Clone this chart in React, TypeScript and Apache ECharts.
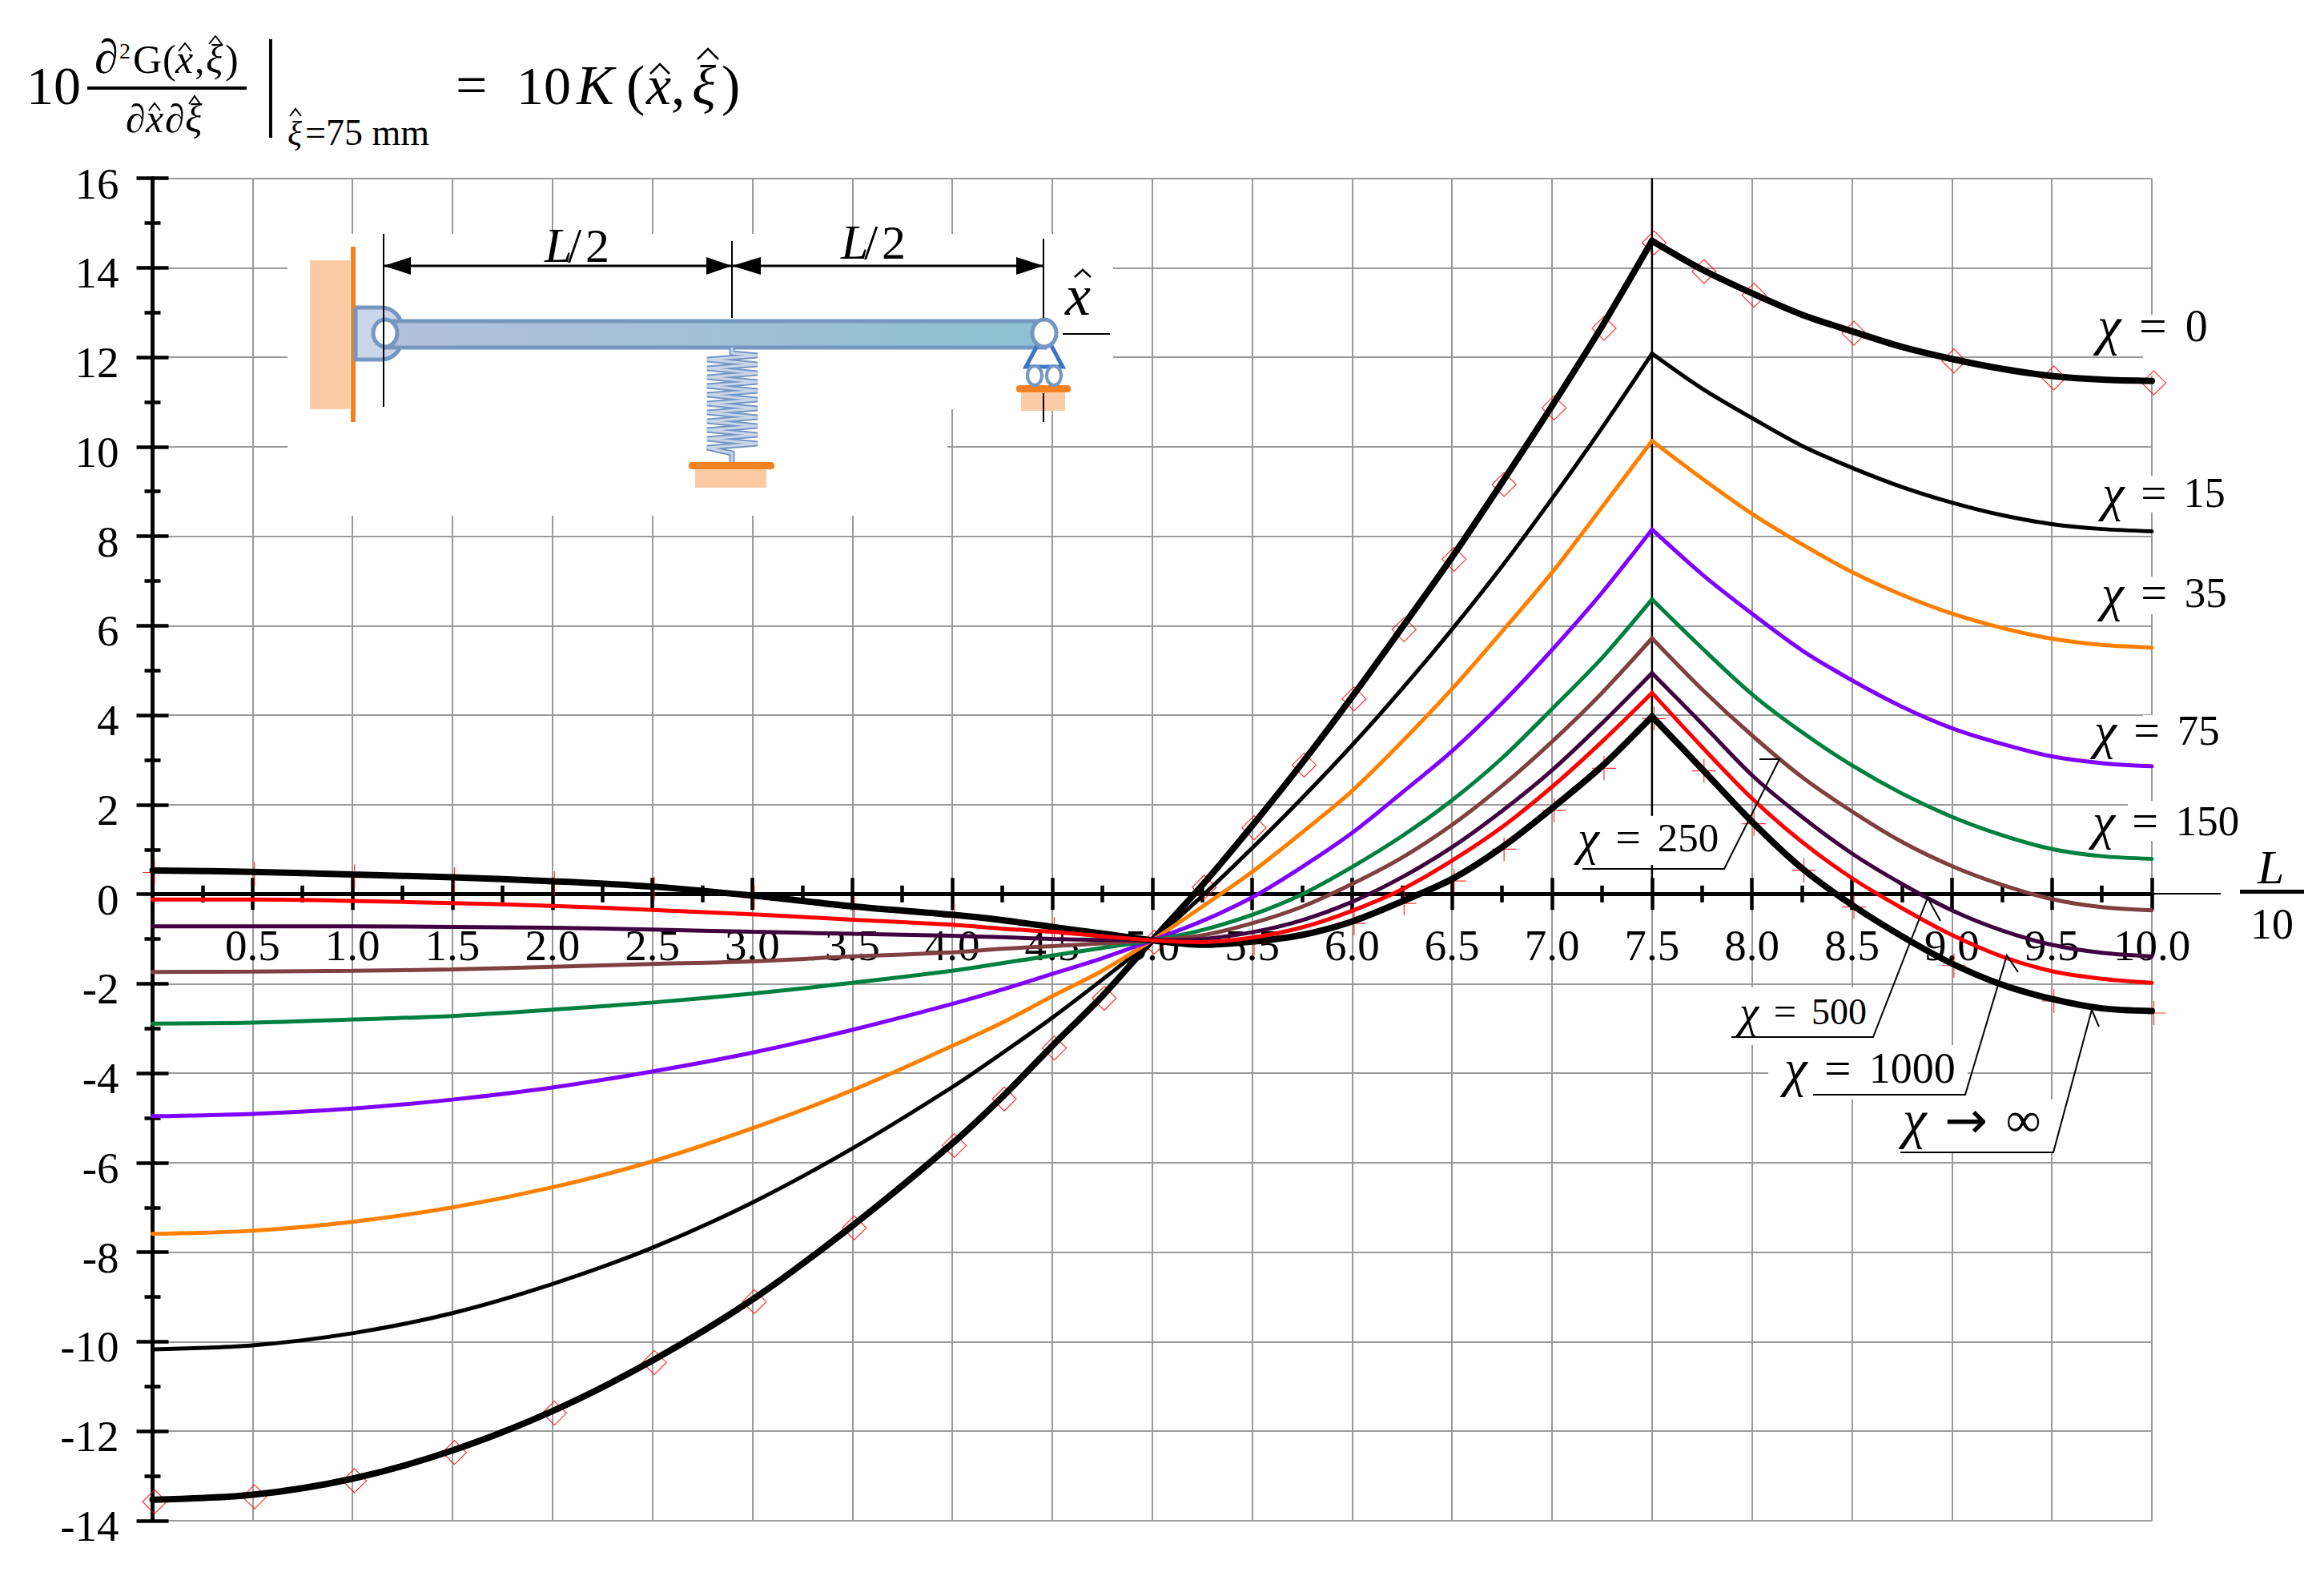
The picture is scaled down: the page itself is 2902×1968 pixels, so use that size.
// Familia de curvas 10*K(x,xi) para xi = 75 mm, com o esquema da viga no canto superior.
import { useEffect, useRef } from 'react'
import * as echarts from 'echarts'

const xValues = [0, 0.5, 1, 1.5, 2, 2.5, 3, 3.5, 4, 4.25, 4.5, 4.75, 5, 5.25, 5.5, 5.75, 6, 6.25, 6.5, 6.75, 7, 7.25, 7.5, 7.75, 8, 8.25, 8.5, 8.75, 9, 9.25, 9.5, 9.75, 10]

const chi0 = [-13.53, -13.42, -13.06, -12.43, -11.55, -10.42, -9.06, -7.41, -5.57, -4.53, -3.39, -2.28, -1.03, 0.2, 1.53, 2.93, 4.41, 5.96, 7.53, 9.2, 10.91, 12.69, 14.6, 13.96, 13.43, 12.95, 12.58, 12.23, 11.96, 11.74, 11.58, 11.5, 11.47]
const chi15 = [-10.17, -10.08, -9.81, -9.36, -8.71, -7.9, -6.89, -5.68, -4.31, -3.55, -2.76, -1.91, -1.03, -0.04, 1.03, 2.15, 3.33, 4.59, 5.92, 7.33, 8.84, 10.42, 12.08, 11.3, 10.64, 10.02, 9.53, 9.1, 8.75, 8.47, 8.27, 8.16, 8.11]
const chi35 = [-7.59, -7.52, -7.32, -7.0, -6.55, -5.97, -5.23, -4.38, -3.39, -2.87, -2.28, -1.71, -1.03, -0.28, 0.5, 1.38, 2.31, 3.41, 4.59, 5.87, 7.19, 8.65, 10.13, 9.29, 8.5, 7.82, 7.2, 6.69, 6.27, 5.95, 5.71, 5.57, 5.51]
const chi75 = [-4.96, -4.91, -4.79, -4.59, -4.32, -3.96, -3.54, -3.03, -2.45, -2.13, -1.78, -1.43, -1.03, -0.6, -0.07, 0.61, 1.37, 2.27, 3.2, 4.27, 5.46, 6.74, 8.15, 7.15, 6.27, 5.45, 4.78, 4.19, 3.71, 3.36, 3.08, 2.93, 2.86]
const chi150 = [-2.89, -2.87, -2.8, -2.72, -2.58, -2.42, -2.22, -1.98, -1.71, -1.54, -1.37, -1.2, -1.03, -0.8, -0.46, 0, 0.61, 1.3, 2.1, 3.04, 4.14, 5.28, 6.59, 5.5, 4.47, 3.62, 2.88, 2.25, 1.73, 1.32, 1.01, 0.85, 0.79]
const chi250 = [-1.74, -1.73, -1.71, -1.68, -1.62, -1.56, -1.5, -1.39, -1.3, -1.22, -1.16, -1.1, -1.03, -0.92, -0.65, -0.28, 0.23, 0.82, 1.55, 2.42, 3.41, 4.5, 5.72, 4.58, 3.55, 2.62, 1.85, 1.17, 0.63, 0.21, -0.11, -0.29, -0.36]
const chi500 = [-0.72, -0.72, -0.72, -0.73, -0.75, -0.79, -0.84, -0.885, -0.93, -0.96, -1.0, -1.02, -1.03, -1.0, -0.85, -0.58, -0.17, 0.38, 1.05, 1.86, 2.77, 3.82, 4.94, 3.81, 2.66, 1.73, 0.91, 0.23, -0.36, -0.81, -1.13, -1.31, -1.39]
const chi1000 = [-0.12, -0.12, -0.15, -0.2, -0.26, -0.35, -0.45, -0.57, -0.68, -0.77, -0.84, -0.94, -1.03, -1.07, -0.97, -0.74, -0.37, 0.11, 0.75, 1.5, 2.4, 3.41, 4.5, 3.29, 2.14, 1.17, 0.36, -0.31, -0.91, -1.39, -1.72, -1.89, -1.98]
const chiInf = [0.53, 0.5, 0.44, 0.38, 0.29, 0.17, -0.03, -0.27, -0.46, -0.58, -0.73, -0.88, -1.03, -1.13, -1.06, -0.91, -0.61, -0.16, 0.34, 1.05, 1.92, 2.86, 3.97, 2.8, 1.62, 0.58, -0.24, -0.94, -1.55, -2.02, -2.34, -2.55, -2.61]

const diamondX = [0, 0.5, 1, 1.5, 2, 2.5, 3, 3.5, 4, 4.25, 4.5, 4.75, 5, 5.25, 5.5, 5.75, 6, 6.25, 6.5, 6.75, 7, 7.25, 7.5, 7.75, 8, 8.5, 9, 9.5, 10]
const plusX = [0, 0.5, 1, 1.5, 2, 2.5, 3, 3.5, 4, 4.5, 5.5, 6, 6.25, 6.5, 6.75, 7, 7.25, 7.5, 7.75, 8, 8.25, 8.5, 9, 9.5, 10]

const FONTE = '"Liberation Serif", serif'
const CINZA = '#9a9a9a'
const PESSEGO = '#facba5'
const LARANJA = '#f58220'
const AZUL = '#7696c2'

// posicao do grafico na pagina: y = 0 fica em 1116.3 e o fundo da grade em 1899
const GRADE_FUNDO = 1899
const Y_ZERO = 1116.3
// o pico em x = 7.5 tem que ficar vivo, entao cada curva vira dois trechos suavizados
const I_PICO = xValues.indexOf(7.5)

function pontos(valores: number[]) {
  return xValues.map((x, i) => [x, valores[i]])
}

function marcadores(xs: number[], valores: number[]) {
  return xs.map((x) => [x, valores[xValues.indexOf(x)]])
}

function curva(nome: string, valores: number[], cor: string, largura: number) {
  const todos = pontos(valores)
  return [todos.slice(0, I_PICO + 1), todos.slice(I_PICO)].map((data) => ({
    name: nome,
    type: 'line',
    data,
    smooth: 0.3,
    showSymbol: false,
    lineStyle: { color: cor, width: largura, cap: 'round' },
  }))
}

// x e a linha de base do texto
function texto(text: string, x: number, base: number, fontSize: number, extra: object = {}) {
  return {
    type: 'text',
    z: 20,
    x,
    y: base - 0.3375 * fontSize,
    style: { text, fontFamily: FONTE, fontSize, fill: '#000', verticalAlign: 'middle', ...extra },
  }
}

function italico(text: string, x: number, base: number, fontSize: number) {
  return texto(text, x, base, fontSize, { fontStyle: 'italic' })
}

function linha(pts: number[][], cor = '#000', largura = 2) {
  return { type: 'polyline', z: 20, shape: { points: pts }, style: { stroke: cor, lineWidth: largura, fill: 'none' } }
}

function chapeu(cx: number, topo: number, meia: number, altura: number, largura = 2) {
  return linha([[cx - meia, topo + altura], [cx, topo], [cx + meia, topo + altura]], '#000', largura)
}

function caixa(x: number, y: number, width: number, height: number, fill: string, z = 1) {
  return { type: 'rect', z, shape: { x, y, width, height }, style: { fill } }
}

function rotuloChi(valor: string, x: number, y: number, size: number) {
  const comSeta = valor.startsWith('→')
  const simbolo = comSeta ? '→' : '='
  const numero = valor.replace('→', '')
  return {
    type: 'text',
    z: 20,
    x,
    y,
    style: {
      text: `{c|χ}{e|${simbolo}}{n|${numero}}`,
      fontFamily: FONTE,
      verticalAlign: 'middle',
      rich: {
        c: { fontFamily: FONTE, fontStyle: 'italic', fontSize: size * 1.2, fill: '#000', verticalAlign: 'middle' },
        e: {
          fontFamily: comSeta ? '"DejaVu Sans"' : FONTE,
          fontSize: comSeta ? size * 1.15 : size * 1.1,
          fill: '#000',
          verticalAlign: 'middle',
          padding: [0, size * 0.41, 0, size * 0.4],
        },
        n: { fontFamily: FONTE, fontSize: comSeta ? size * 1.1 : size, fill: '#000', verticalAlign: 'middle' },
      },
    },
  }
}

function seta(ponta: number[], base: number, meia: number) {
  return {
    type: 'polygon',
    z: 20,
    shape: { points: [ponta, [base, ponta[1] - meia], [base, ponta[1] + meia]] },
    style: { fill: '#000' },
  }
}

// mola em zigue-zague do esquema
function mola() {
  const pts: number[][] = [[914, 434], [914, 441]]
  for (let i = 0; i < 11; i++) {
    pts.push([946, 444 + i * 11], [883, 449 + i * 11])
  }
  pts.push([914, 566], [914, 580])
  return [linha(pts, AZUL, 7), linha(pts, '#c9d5e8', 3)]
}

function elementosGraficos() {
  const mascaras = [
    caixa(359, 292, 824, 352, '#fff'),
    caixa(1183, 292, 207, 219, '#fff'),
    caixa(2676, 393, 20, 76, '#fff'),
    caixa(2676, 594, 20, 46, '#fff'),
    caixa(2676, 720, 20, 47, '#fff'),
    caixa(2676, 893, 20, 64, '#fff'),
    caixa(2657, 1000, 40, 50, '#fff'),
    caixa(1960, 1019, 195, 61, '#fff'),
    caixa(2150, 1233, 195, 72, '#fff'),
    caixa(2208, 1305, 249, 68, '#fff'),
    caixa(2360, 1373, 210, 67, '#fff'),
  ]

  const formula = [
    texto('10', 33, 130, 68),
    texto('∂', 118, 91, 60),
    texto('2', 149, 73, 28),
    texto('G', 166, 91, 50),
    texto('(', 203, 91, 50),
    italico('x', 219, 91, 50),
    chapeu(231, 54, 8, 10),
    texto(',', 243, 91, 50),
    italico('ξ', 257, 91, 50),
    chapeu(269, 45, 8, 10),
    texto(')', 281, 91, 50),
    caixa(109, 108, 199, 4, '#000', 20),
    texto('∂', 157, 165, 50),
    italico('x', 182, 165, 50),
    chapeu(193, 129, 7, 9),
    texto('∂', 206, 165, 50),
    italico('ξ', 231, 165, 50),
    chapeu(243, 120, 7, 10),
    caixa(336, 49, 4, 123, '#000', 20),
    italico('ξ', 359, 181, 42),
    chapeu(369, 136, 7, 9),
    texto('=75 mm', 381, 181, 46),
    texto('=', 569, 130, 70),
    texto('10', 645, 130, 68),
    italico('K', 720, 130, 70),
    texto('(', 782, 130, 70),
    italico('x', 807, 130, 70),
    chapeu(824, 80, 12, 12, 2.5),
    texto(',', 838, 130, 70),
    italico('ξ', 864, 130, 70),
    chapeu(884, 61, 13, 13, 2.5),
    texto(')', 901, 130, 70),
  ]

  const esquema = [
    caixa(387, 325, 50, 186, PESSEGO, 3),
    caixa(438, 308, 6, 219, LARANJA, 3),
    { type: 'rect', z: 4, shape: { x: 444, y: 384, width: 58, height: 65, r: [0, 26, 26, 0] }, style: { fill: '#c9d5e8', stroke: AZUL, lineWidth: 5 } },
    {
      type: 'rect',
      z: 5,
      shape: { x: 481, y: 401, width: 824, height: 33 },
      style: {
        fill: new echarts.graphic.LinearGradient(0, 0, 1, 0, [
          { offset: 0, color: '#b3c0da' },
          { offset: 1, color: '#8dc1d3' },
        ]),
        stroke: AZUL,
        lineWidth: 5,
      },
    },
    { type: 'ellipse', z: 6, shape: { cx: 481, cy: 416, rx: 15, ry: 17 }, style: { fill: '#fff', stroke: AZUL, lineWidth: 5 } },
    { type: 'ellipse', z: 6, shape: { cx: 1304, cy: 416, rx: 15, ry: 17 }, style: { fill: '#fff', stroke: AZUL, lineWidth: 5 } },
    { type: 'polyline', z: 5, shape: { points: [[1295, 432], [1281, 458], [1327, 458], [1313, 432]] }, style: { stroke: '#3a76c8', lineWidth: 5, fill: 'none' } },
    { type: 'ellipse', z: 6, shape: { cx: 1292, cy: 469, rx: 9, ry: 12 }, style: { fill: '#fff', stroke: AZUL, lineWidth: 4 } },
    { type: 'ellipse', z: 6, shape: { cx: 1316, cy: 469, rx: 9, ry: 12 }, style: { fill: '#fff', stroke: AZUL, lineWidth: 4 } },
    caixa(1275, 490, 55, 23, PESSEGO, 3),
    { type: 'rect', z: 4, shape: { x: 1269, y: 481, width: 68, height: 9, r: 4 }, style: { fill: LARANJA } },
    ...mola(),
    caixa(868, 586, 89, 23, PESSEGO, 3),
    { type: 'rect', z: 21, shape: { x: 860, y: 577, width: 107, height: 9, r: 4 }, style: { fill: LARANJA } },
    linha([[479, 292], [479, 508]]),
    linha([[914, 301], [914, 397]]),
    linha([[1303, 298], [1303, 397]]),
    linha([[1303, 491], [1303, 527]]),
    linha([[479, 332], [1303, 332]], '#000', 3),
    seta([479, 332], 513, 11),
    seta([914, 332], 882, 11),
    seta([914, 332], 950, 11),
    seta([1303, 332], 1269, 11),
    linha([[1327, 417], [1386, 417]]),
    italico('L', 680, 327, 62),
    texto('/', 709, 327, 62),
    texto('2', 731, 327, 60),
    italico('L', 1050, 323, 62),
    texto('/', 1079, 323, 62),
    texto('2', 1101, 323, 60),
    italico('x', 1330, 393, 72),
    chapeu(1352, 337, 10, 9, 2.5),
  ]

  const rotulos = [
    rotuloChi('0', 2619, 407, 56),
    rotuloChi('15', 2625, 615, 52),
    rotuloChi('35', 2624, 740, 53),
    rotuloChi('75', 2615, 912, 53),
    rotuloChi('150', 2613, 1025, 53),
    rotuloChi('250', 1970, 1046, 51),
    rotuloChi('500', 2172, 1263, 46),
    rotuloChi('1000', 2228, 1334, 54),
    rotuloChi('→∞', 2376, 1398, 56),
    linha([[1976, 1085], [2153, 1085], [2222, 948], [2197, 948]]),
    linha([[2162, 1295], [2339, 1295], [2407, 1121], [2423, 1150]]),
    linha([[2264, 1367], [2454, 1367], [2506, 1193], [2520, 1214]]),
    linha([[2373, 1439], [2564, 1439], [2612, 1261], [2621, 1282]]),
    linha([[2687, 1116], [2773, 1116]]),
    italico('L', 2819, 1103, 60),
    caixa(2797, 1111, 80, 5, '#000', 20),
    texto('10', 2810, 1172, 54),
  ]

  return [...mascaras, ...formula, ...esquema, ...rotulos]
}

function eixoX(interno: boolean) {
  return {
    type: 'value',
    min: 0,
    max: 10,
    interval: 0.5,
    position: 'bottom',
    // o eixo fica em y = 0, e o offset leva junto os rotulos
    offset: Y_ZERO - GRADE_FUNDO,
    axisLine: { show: true, onZero: false, lineStyle: { color: '#000', width: 5 } },
    axisTick: { show: true, inside: interno, length: 20, lineStyle: { color: '#000', width: 4.5 } },
    minorTick: { show: true, splitNumber: 2, length: 10.5, lineStyle: { color: '#000', width: 4.5 } },
    axisLabel: {
      show: !interno,
      showMinLabel: false,
      showMaxLabel: true,
      margin: 37,
      fontFamily: FONTE,
      fontSize: 55,
      color: '#000',
      formatter: (v: number) => v.toFixed(1),
    },
    splitLine: { show: !interno, lineStyle: { color: CINZA, width: 2 } },
  }
}

function eixoY(interno: boolean) {
  return {
    type: 'value',
    min: -14,
    max: 16,
    interval: 2,
    position: 'left',
    axisLine: { show: true, onZero: false, lineStyle: { color: '#000', width: 4.5 } },
    axisTick: { show: true, inside: interno, length: 20, lineStyle: { color: '#000', width: 4.5 } },
    minorTick: { show: true, splitNumber: 2, length: 10, lineStyle: { color: '#000', width: 4.5 } },
    axisLabel: {
      show: !interno,
      margin: 42,
      verticalAlign: 'top',
      padding: [-21, 0, 0, 0],
      fontFamily: FONTE,
      fontSize: 55,
      color: '#000',
    },
    splitLine: { show: !interno, lineStyle: { color: CINZA, width: 2 } },
  }
}

export default function App() {
  const ref = useRef<HTMLDivElement>(null)

  useEffect(() => {
    if (!ref.current) return
    document.body.style.margin = '0'
    const chart = echarts.init(ref.current, undefined, { renderer: 'svg' })
    chart.setOption({
      animation: false,
      backgroundColor: '#fff',
      textStyle: { fontFamily: FONTE },
      grid: { left: 190.5, right: 215, top: 222.5, bottom: 1968 - GRADE_FUNDO },
      xAxis: [eixoX(false), eixoX(true)],
      yAxis: [eixoY(false), eixoY(true)],
      graphic: { elements: elementosGraficos() },
      series: [
        {
          name: 'marcos χ = 0',
          type: 'scatter',
          data: marcadores(diamondX, chi0),
          symbol: 'diamond',
          symbolSize: 30,
          symbolOffset: [2.5, 2.5],
          clip: false,
          itemStyle: { color: 'none', borderColor: '#ff0000', borderWidth: 1.2 },
        },
        {
          name: 'x = 7.5',
          type: 'line',
          data: [[7.5, 16], [7.5, 1.75], [7.5, '-'], [7.5, 0.65], [7.5, 0]],
          showSymbol: false,
          lineStyle: { color: '#000', width: 2.5 },
        },
        ...curva('χ = 0', chi0, '#000000', 8),
        ...curva('χ = 15', chi15, '#000000', 5),
        ...curva('χ = 35', chi35, '#ff8000', 5),
        ...curva('χ = 75', chi75, '#8000ff', 5),
        ...curva('χ = 150', chi150, '#008040', 5),
        ...curva('χ = 250', chi250, '#804040', 5),
        ...curva('χ = 500', chi500, '#400040', 5),
        ...curva('χ → ∞', chiInf, '#000000', 8),
        ...curva('χ = 1000', chi1000, '#ff0000', 5),
        {
          name: 'marcos χ → ∞',
          type: 'scatter',
          data: marcadores(plusX, chiInf),
          symbol: 'path://M0 15H30M15 0V30',
          symbolSize: 30,
          symbolOffset: [2.5, 2.5],
          clip: false,
          itemStyle: { color: 'none', borderColor: '#ff0000', borderWidth: 1.2 },
        },
      ],
    })
    return () => chart.dispose()
  }, [])

  return <div ref={ref} style={{ position: 'absolute', left: 0, top: 0, width: 2902, height: 1968 }} />
}
